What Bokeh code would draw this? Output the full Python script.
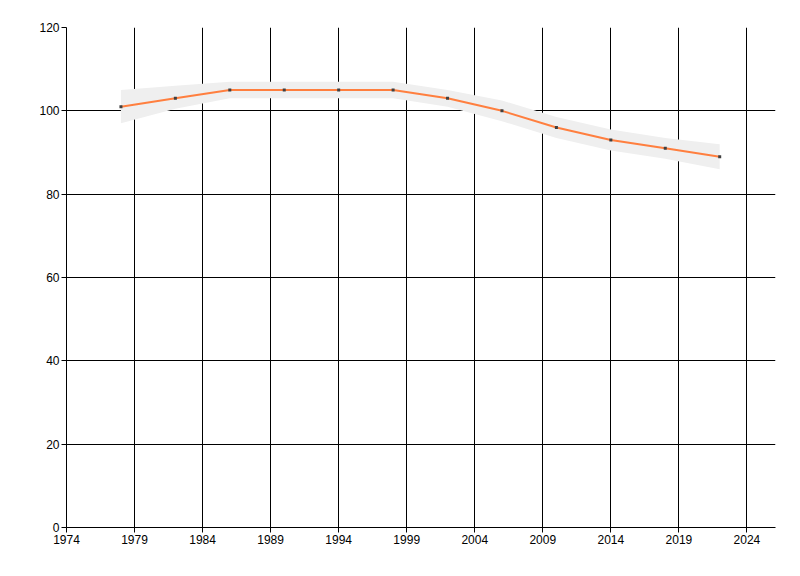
from bokeh.plotting import figure
from bokeh.models import FixedTicker, Range1d, ColumnDataSource
from bokeh.embed import file_html
from bokeh.resources import INLINE

years = [1978, 1982, 1986, 1990, 1994, 1998, 2002, 2006, 2010, 2014, 2018, 2022]
values = [101, 103, 105, 105, 105, 105, 103, 100, 96, 93, 91, 89]
lower = [97, 100.5, 103, 103, 103, 103, 101, 97.5, 93.5, 90.5, 88.5, 86]
upper = [105, 106, 107, 107, 107, 107, 105, 102.5, 98.5, 95.5, 93.5, 92]
x_ticks = [1974, 1979, 1984, 1989, 1994, 1999, 2004, 2009, 2014, 2019, 2024]
y_ticks = [0, 20, 40, 60, 80, 100, 120]

src = ColumnDataSource(dict(x=years, y=values, lo=lower, hi=upper))

p = figure(width=792, height=568, output_backend="svg", toolbar_location=None,
           x_range=Range1d(1974, 2026.1), y_range=Range1d(0, 120),
           min_border_left=66, min_border_top=27, min_border_right=17, min_border_bottom=41)
p.outline_line_color = None
p.background_fill_color = "white"

p.varea(x="x", y1="lo", y2="hi", source=src, fill_color="#efefef")
p.line(x="x", y="y", source=src, line_color="#ff7f3f", line_width=2)
p.scatter(x="x", y="y", source=src, marker="square", size=3, fill_color="#404040", line_color=None)

for ax in (p.xaxis, p.yaxis):
    ax.axis_line_color = "black"
    ax.major_tick_line_color = "black"
    ax.major_tick_out = 5
    ax.major_tick_in = 0
    ax.minor_tick_line_color = None
    ax.major_label_text_font = "Liberation Sans"
    ax.major_label_text_font_size = "12px"
    ax.major_label_text_color = "black"
    ax.major_label_standoff = 2

p.xaxis.ticker = FixedTicker(ticks=x_ticks)
p.yaxis.ticker = FixedTicker(ticks=y_ticks)

p.xgrid.ticker = FixedTicker(ticks=x_ticks)
p.ygrid.ticker = FixedTicker(ticks=y_ticks)
for g in (p.xgrid, p.ygrid):
    g.grid_line_color = "black"
    g.grid_line_width = 1
    g.grid_line_alpha = 1.0
    g.level = "underlay"

open("out.html", "w").write(file_html(p, INLINE))
